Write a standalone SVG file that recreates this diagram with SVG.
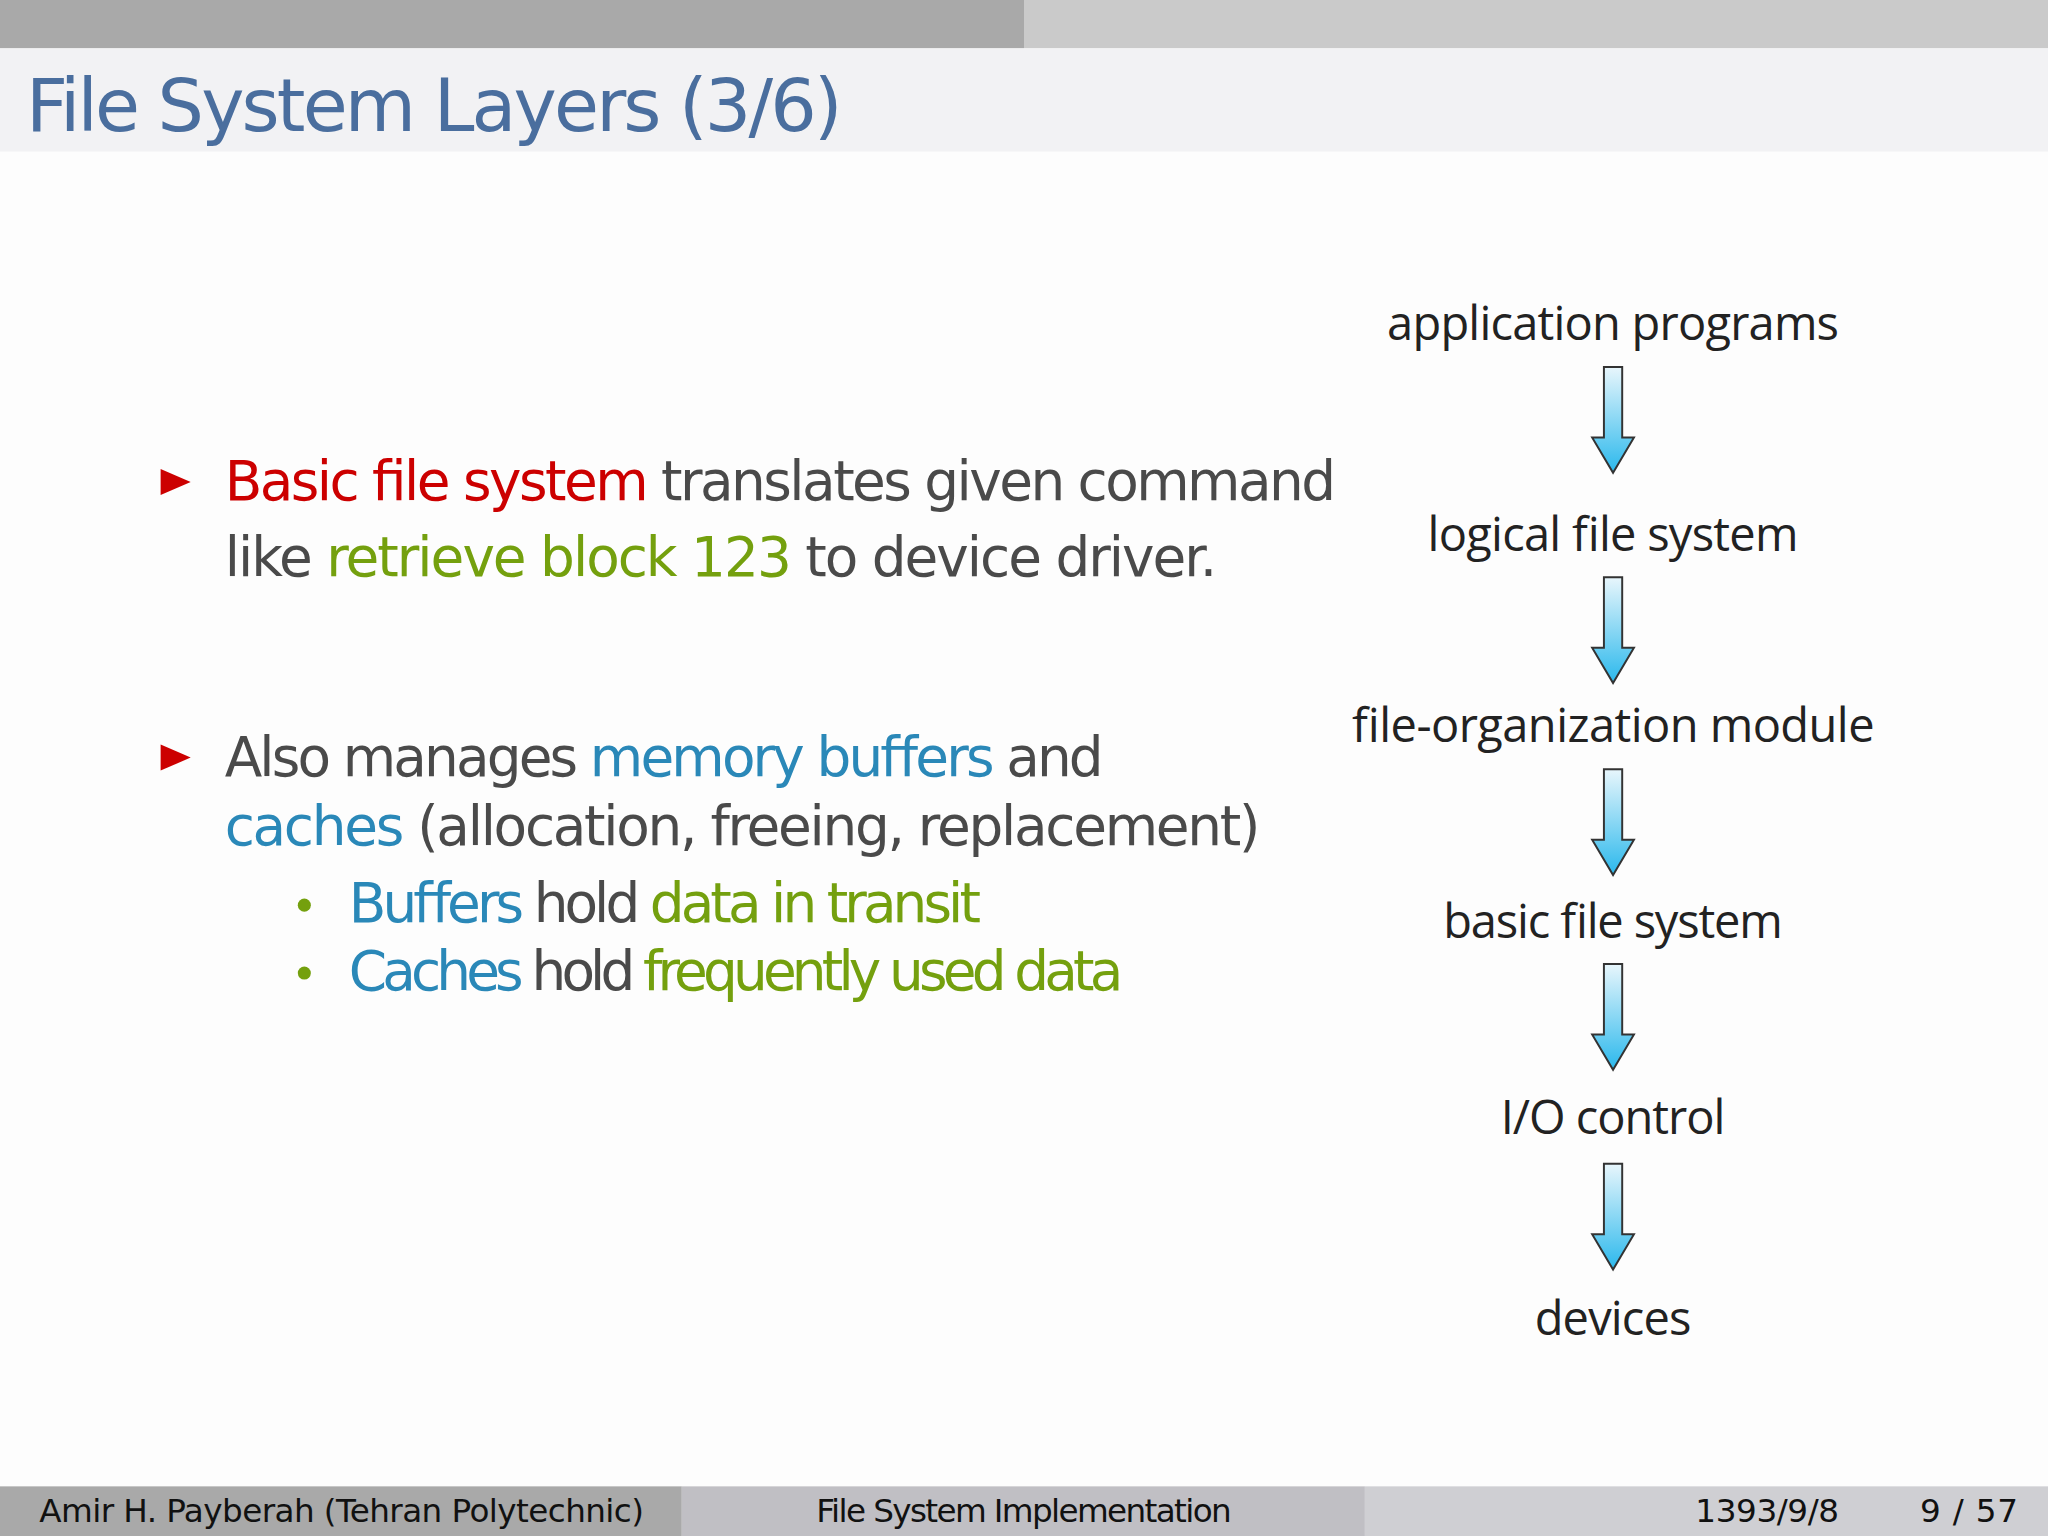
<svg xmlns="http://www.w3.org/2000/svg" width="2048" height="1536" viewBox="0 0 2048 1536">
<defs>
<linearGradient id="sg" x1="0" y1="0" x2="0" y2="1"><stop offset="0" stop-color="#e8f6fc"/><stop offset="1" stop-color="#2ab8ec"/></linearGradient>
<linearGradient id="hg" x1="0" y1="0" x2="0" y2="1"><stop offset="0" stop-color="#3cc4f2"/><stop offset="1" stop-color="#14a8e4"/></linearGradient>
<path id="arr" d="M-7,0 H7 V54 H16 L0,81 L-16,54 H-7 Z" fill="url(#sg)" stroke="#333" stroke-width="1.5"/>
</defs>
<style>
.s{font-family:"DejaVu Sans","Liberation Sans",sans-serif}
.b{font-size:42px;fill:#4a4a4a}
.r{fill:#cc0000}.g{fill:#74a00e}.u{fill:#2a88b8}
.d{font-family:"Open Sans","Liberation Sans",sans-serif;font-size:36px;fill:#222;text-anchor:middle}
.f{font-size:25px;fill:#111}
</style>
<g transform="scale(1.30612)">
<rect width="1568" height="1176" fill="#fdfdfd"/>
<rect width="784" height="37" fill="#a9a9a9"/>
<rect x="784" width="784" height="37" fill="#cacaca"/>
<rect y="37" width="1568" height="79" fill="#f2f2f4"/>
<text x="20" y="100" class="s" font-size="56" fill="#4a6e9e" textLength="625">File System Layers (3/6)</text>
<g id="bullets">
<polygon points="123,359 146,369 123,379" fill="#cc0000"/>
<text x="172" y="383" class="s b" textLength="851"><tspan class="r">Basic file system</tspan> translates given command</text>
<text x="172" y="441" class="s b" textLength="760">like <tspan class="g">retrieve block 123</tspan> to device driver.</text>
<polygon points="123,570 146,580 123,590" fill="#cc0000"/>
<text x="172" y="594" class="s b" textLength="673">Also manages <tspan class="u">memory buffers</tspan> and</text>
<text x="172" y="647" class="s b" textLength="793"><tspan class="u">caches</tspan> (allocation, freeing, replacement)</text>
<circle cx="233" cy="693" r="5" fill="#74a00e"/>
<text x="267" y="706" class="s b" font-size="38" textLength="484"><tspan class="u">Buffers</tspan> hold <tspan class="g">data in transit</tspan></text>
<circle cx="233" cy="745" r="5" fill="#74a00e"/>
<text x="267" y="758" class="s b" font-size="38" textLength="593"><tspan class="u">Caches</tspan> hold <tspan class="g">frequently used data</tspan></text>
</g>
<g id="n1"><text x="1235" y="260" class="d" textLength="346">application programs</text></g>
<g id="n2"><text x="1235" y="422" class="d" textLength="284">logical file system</text></g>
<g id="n3"><text x="1235" y="568" class="d" textLength="400">file-organization module</text></g>
<g id="n4"><text x="1235" y="718" class="d" textLength="260">basic file system</text></g>
<g id="n5"><text x="1235" y="868" class="d" textLength="172">I/O control</text></g>
<g id="n6"><text x="1235" y="1022" class="d" textLength="120">devices</text></g>
<g id="connectors">
<use href="#arr" x="1235" y="281"/>
<use href="#arr" x="1235" y="442"/>
<use href="#arr" x="1235" y="589"/>
<use href="#arr" x="1235" y="738"/>
<use href="#arr" x="1235" y="891"/>
</g>
<rect y="1138" width="522" height="38" fill="#a9a9a9"/>
<rect x="522" y="1138" width="523" height="38" fill="#c0bfc4"/>
<rect x="1045" y="1138" width="523" height="38" fill="#cfcfd3"/>
<text x="30" y="1165" class="s f" textLength="463">Amir H. Payberah  (Tehran Polytechnic)</text>
<text x="625" y="1165" class="s f" textLength="318">File System Implementation</text>
<text x="1298" y="1165" class="s f" textLength="110">1393/9/8</text>
<text x="1470" y="1165" class="s f" textLength="75">9 / 57</text>
</g>
</svg>
